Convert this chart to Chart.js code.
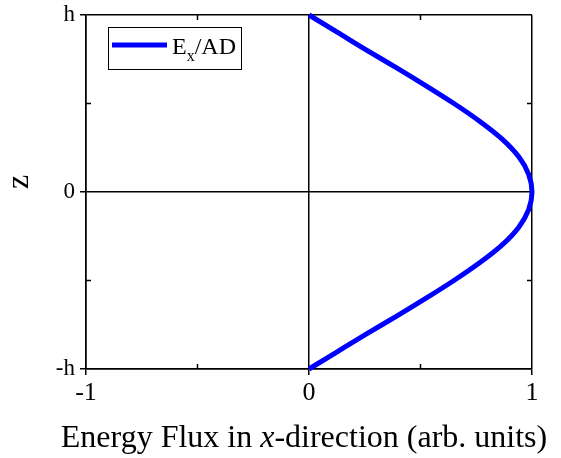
<!DOCTYPE html>
<html>
<head>
<meta charset="utf-8">
<script src="https://cdn.jsdelivr.net/npm/chart.js@4/dist/chart.umd.min.js"></script>
<style>
  html, body { margin: 0; padding: 0; background: #fff; }
  #wrap { width: 561px; height: 458px; }
</style>
</head>
<body>
<div id="wrap"><canvas id="chart" width="561" height="458"></canvas></div>
<script>
// z position (units of h) and energy flux
const zValues = [1, 0.9, 0.8, 0.7, 0.6, 0.5, 0.4, 0.3, 0.2, 0.1, 0, -0.1, -0.2, -0.3, -0.4, -0.5, -0.6, -0.7, -0.8, -0.9, -1]
const fluxValues = [0, 0.13, 0.26, 0.395, 0.525, 0.65, 0.765, 0.865, 0.94, 0.985, 1, 0.985, 0.94, 0.865, 0.765, 0.65, 0.525, 0.395, 0.26, 0.13, 0]
const yTickLabels = { '-1': '-h', '0': '0', '1': 'h' }
const legendParts = ['E', 'x', '/AD']   // E, subscript x, /AD
const xTitleParts = ['Energy Flux in ', 'x', '-direction (arb. units)']
const yTitle = 'z'

const serif = "'Liberation Serif', 'Times New Roman', serif"

// inward minor ticks at +-0.5 on all four sides
const minorTicks = {
  id: 'minorTicks',
  afterDraw(chart) {
    const { ctx, chartArea: a, scales: { x, y } } = chart
    const len = 5
    ctx.save()
    ctx.strokeStyle = '#000'
    ctx.lineWidth = 1.5
    ctx.beginPath()
    ;[-0.5, 0.5].forEach(v => {
      const px = x.getPixelForValue(v)
      ctx.moveTo(px, a.bottom); ctx.lineTo(px, a.bottom - len)
      ctx.moveTo(px, a.top); ctx.lineTo(px, a.top + len)
      const py = y.getPixelForValue(v)
      ctx.moveTo(a.left, py); ctx.lineTo(a.left + len, py)
      ctx.moveTo(a.right, py); ctx.lineTo(a.right - len, py)
    })
    ctx.stroke()
    ctx.restore()
  }
}

// axis titles (x title has an italic x)
const axisTitles = {
  id: 'axisTitles',
  afterDraw(chart) {
    const { ctx } = chart
    ctx.save()
    ctx.fillStyle = '#000'
    ctx.textBaseline = 'alphabetic'
    ctx.textAlign = 'left'
    const normal = '32px ' + serif
    const italic = 'italic 32px ' + serif
    const fonts = [normal, italic, normal]
    let total = 0
    xTitleParts.forEach((t, i) => { ctx.font = fonts[i]; total += ctx.measureText(t).width })
    let tx = 304 - total / 2
    xTitleParts.forEach((t, i) => {
      ctx.font = fonts[i]
      ctx.fillText(t, tx, 447)
      tx += ctx.measureText(t).width
    })

    ctx.translate(28, 182)
    ctx.rotate(-Math.PI / 2)
    ctx.textAlign = 'center'
    ctx.font = normal
    ctx.fillText(yTitle, 0, 0)
    ctx.restore()
  }
}

// boxed legend in the top-left corner, with the subscript x
const boxLegend = {
  id: 'boxLegend',
  afterDraw(chart) {
    const { ctx, chartArea: a } = chart
    const ds = chart.data.datasets[0]
    const left = a.left + 22, top = a.top + 12
    const w = 133, h = 42
    ctx.save()
    ctx.fillStyle = '#fff'
    ctx.fillRect(left, top, w, h)
    ctx.strokeStyle = '#000'
    ctx.lineWidth = 1
    ctx.strokeRect(left + 0.5, top + 0.5, w, h)

    const ly = top + 18
    ctx.strokeStyle = ds.borderColor
    ctx.lineWidth = ds.borderWidth
    ctx.beginPath()
    ctx.moveTo(left + 4, ly)
    ctx.lineTo(left + 59, ly)
    ctx.stroke()

    ctx.fillStyle = '#000'
    ctx.textBaseline = 'alphabetic'
    ctx.textAlign = 'left'
    const base = top + 27
    let tx = left + 64
    ctx.font = '24px ' + serif
    ctx.fillText(legendParts[0], tx, base)
    tx += ctx.measureText(legendParts[0]).width
    ctx.font = '16px ' + serif
    ctx.fillText(legendParts[1], tx, base + 7)
    tx += ctx.measureText(legendParts[1]).width
    ctx.font = '24px ' + serif
    ctx.fillText(legendParts[2], tx, base)
    ctx.restore()
  }
}

new Chart(document.getElementById('chart'), {
  type: 'line',
  data: {
    datasets: [{
      label: legendParts.join(''),
      data: zValues.map((z, i) => ({ x: fluxValues[i], y: z })),
      borderColor: '#0000ff',
      borderWidth: 5,
      pointRadius: 0,
      cubicInterpolationMode: 'monotone',
      clip: false
    }]
  },
  options: {
    indexAxis: 'y',
    responsive: false,
    animation: false,
    layout: { padding: { top: 15, right: 29, left: 0, bottom: 0 } },
    plugins: { legend: { display: false }, tooltip: { enabled: false } },
    scales: {
      x: {
        type: 'linear', min: -1, max: 1,
        afterFit(s) { s.height = 89 },
        ticks: { stepSize: 1, color: '#000', font: { family: serif, size: 26 }, padding: 3, maxRotation: 0 },
        grid: { color: '#000', lineWidth: 1.5, tickLength: 6, tickColor: '#000' },
        border: { color: '#000', width: 1.5 }
      },
      y: {
        type: 'linear', min: -1, max: 1,
        afterFit(s) { s.width = 86 },
        ticks: { stepSize: 1, color: '#000', font: { family: serif, size: 23, lineHeight: 0.8 }, padding: 5,
          callback: v => yTickLabels[String(v)] },
        grid: { color: '#000', lineWidth: 1.5, tickLength: 6, tickColor: '#000' },
        border: { color: '#000', width: 1.5 }
      }
    }
  },
  plugins: [minorTicks, axisTitles, boxLegend]
})
</script>
</body>
</html>
